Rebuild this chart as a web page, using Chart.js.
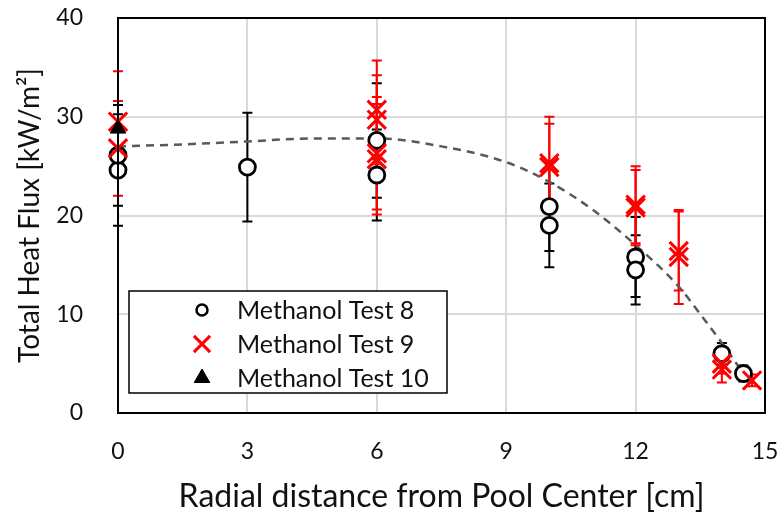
<!DOCTYPE html>
<html>
<head>
<meta charset="utf-8">
<script src="https://cdn.jsdelivr.net/npm/chart.js@4.4.1/dist/chart.umd.min.js"></script>
<style>
  html, body { margin: 0; padding: 0; background: #fff; }
  #wrap { width: 781px; height: 516px; }
</style>
</head>
<body>
<div id="wrap"><canvas id="fluxChart" width="781" height="516"></canvas></div>
<script>
// Methanol Test 8 (open circles)
const t8X   = [0, 0, 3, 6, 6, 10, 10, 12, 12, 14, 14.5];
const t8Y   = [24.6, 26.1, 24.9, 27.6, 24.1, 20.9, 19.0, 15.8, 14.5, 6.0, 4.0];
const t8Err = [5.65, 5.1, 5.5, 5.8, 4.6, 4.5, 4.25, 4.05, 3.5, 1.1, 0.8];

// Methanol Test 9 (red crosses)
const t9X   = [0, 0, 6, 6, 6, 6, 10, 10, 12, 12, 13, 13, 14, 14, 14.7];
const t9Y   = [29.5, 26.8, 30.7, 29.7, 26.3, 25.7, 25.3, 24.9, 21.1, 20.8, 16.4, 15.8, 5.0, 4.4, 3.3];
const t9Err = [5.1, 4.8, 5.0, 4.5, 5.7, 5.6, 4.7, 4.4, 3.9, 3.8, 4.0, 4.75, 1.0, 1.3, 0.6];

// Methanol Test 10 (filled triangle)
const t10X = [0];
const t10Y = [28.8];

// Dashed trend curve
const trendX = [0, 1.5, 3, 4.5, 6, 7.5, 9, 10, 11, 12, 13, 13.5, 14, 14.5];
const trendY = [27.0, 27.2, 27.5, 27.8, 27.8, 27.0, 25.4, 23.4, 20.6, 17.0, 12.8, 10.0, 7.1, 4.0];

// axis ranges and tick steps
const xRange = [0, 15, 3];
const yRange = [0, 40, 10];

const FONT = 'Lato, "Open Sans", sans-serif';

function toPoints(xs, ys) {
    return xs.map((x, i) => ({ x: x, y: ys[i] }));
}

// vertical error bars with caps, drawn under the markers
const errorBars = {
    id: 'errorBars',
    beforeDatasetsDraw(chart) {
        const ctx = chart.ctx;
        const xs = chart.scales.x, ys = chart.scales.y;
        const sets = [
            { x: t8X, y: t8Y, e: t8Err, color: '#000000' },
            { x: t9X, y: t9Y, e: t9Err, color: '#ff0000' }
        ];
        ctx.save();
        ctx.lineWidth = 2;
        sets.forEach(s => {
            ctx.strokeStyle = s.color;
            s.x.forEach((xv, i) => {
                const px = xs.getPixelForValue(xv);
                const top = ys.getPixelForValue(s.y[i] + s.e[i]);
                const bot = ys.getPixelForValue(s.y[i] - s.e[i]);
                ctx.beginPath();
                ctx.moveTo(px, top); ctx.lineTo(px, bot);
                ctx.moveTo(px - 5, top); ctx.lineTo(px + 5, top);
                ctx.moveTo(px - 5, bot); ctx.lineTo(px + 5, bot);
                ctx.stroke();
            });
        });
        ctx.restore();
    }
};

// black frame round the plot area and the boxed legend
const frameAndLegend = {
    id: 'frameAndLegend',
    afterDraw(chart) {
        const ctx = chart.ctx;
        const a = chart.chartArea;
        ctx.save();
        ctx.strokeStyle = '#000';
        ctx.lineWidth = 2;
        ctx.strokeRect(a.left, a.top, a.right - a.left, a.bottom - a.top);

        const box = { x: 129, y: 291, w: 318, h: 102 };
        ctx.fillStyle = '#fff';
        ctx.fillRect(box.x, box.y, box.w, box.h);
        ctx.lineWidth = 1.5;
        ctx.strokeRect(box.x, box.y, box.w, box.h);

        const rows = [
            { label: 'Methanol Test 8', style: 'circle', r: 5.5, bw: 2.5, stroke: '#000', fill: '#fff' },
            { label: 'Methanol Test 9', style: 'crossRot', r: 11.5, bw: 3, stroke: '#ff0000', fill: '#ff0000' },
            { label: 'Methanol Test 10', style: 'triangle', r: 9, bw: 1, stroke: '#000', fill: '#000' }
        ];
        ctx.font = '25px ' + FONT;
        ctx.textBaseline = 'middle';
        ctx.textAlign = 'left';
        rows.forEach((row, i) => {
            const cy = box.y + 19 + i * 34;
            ctx.fillStyle = row.fill;
            ctx.strokeStyle = row.stroke;
            ctx.lineWidth = row.bw;
            Chart.helpers.drawPoint(ctx, { pointStyle: row.style, radius: row.r, rotation: 0, borderWidth: row.bw }, 202, cy);
            ctx.fillStyle = '#111';
            ctx.fillText(row.label, 237, cy + 1);
        });
        ctx.restore();
    }
};

const ctx = document.getElementById('fluxChart').getContext('2d');
new Chart(ctx, {
    type: 'scatter',
    data: {
        datasets: [
            {
                label: 'Trend',
                data: toPoints(trendX, trendY),
                showLine: true,
                borderColor: '#595959',
                borderWidth: 2.5,
                borderDash: [8, 6],
                pointRadius: 0,
                cubicInterpolationMode: 'monotone',
                order: 4
            },
            {
                label: 'Methanol Test 8',
                data: toPoints(t8X, t8Y),
                pointStyle: 'circle',
                pointRadius: 8,
                borderWidth: 2.8,
                borderColor: '#000',
                backgroundColor: '#fff',
                order: 3
            },
            {
                label: 'Methanol Test 9',
                data: toPoints(t9X, t9Y),
                pointStyle: 'crossRot',
                pointRadius: 13,
                borderWidth: 3,
                borderColor: '#ff0000',
                backgroundColor: '#ff0000',
                order: 2
            },
            {
                label: 'Methanol Test 10',
                data: toPoints(t10X, t10Y),
                pointStyle: 'triangle',
                pointRadius: 9,
                borderWidth: 1,
                borderColor: '#000',
                backgroundColor: '#000',
                order: 1
            }
        ]
    },
    options: {
        responsive: false,
        animation: false,
        clip: false,
        layout: { padding: { left: 0, top: 18, right: 15, bottom: 0 } },
        plugins: {
            legend: { display: false },
            tooltip: { enabled: false }
        },
        scales: {
            x: {
                type: 'linear',
                min: xRange[0],
                max: xRange[1],
                // fixed axis band; the label overhang is left to the layout padding
                afterFit: s => { s.height = 103; s.paddingLeft = 0; s.paddingRight = 0; },
                grid: { color: '#d9d9d9', lineWidth: 2, drawTicks: false },
                border: { display: false },
                ticks: { stepSize: xRange[2], padding: 25, color: '#111', font: { family: FONT, size: 23 } },
                title: {
                    display: true,
                    text: 'Radial distance from Pool Center [cm]',
                    color: '#111',
                    font: { family: FONT, size: 32 },
                    padding: { top: 0, bottom: 0 }
                }
            },
            y: {
                type: 'linear',
                min: yRange[0],
                max: yRange[1],
                afterFit: s => { s.width = 118; s.paddingTop = 0; s.paddingBottom = 0; },
                grid: { color: '#d9d9d9', lineWidth: 2, drawTicks: false },
                border: { display: false },
                ticks: { stepSize: yRange[2], padding: 35, color: '#111', font: { family: FONT, size: 23 } },
                title: {
                    display: true,
                    text: 'Total Heat Flux [kW/m²]',
                    color: '#111',
                    font: { family: FONT, size: 28 },
                    padding: { top: 13, bottom: 0 }
                }
            }
        }
    },
    plugins: [errorBars, frameAndLegend]
});
</script>
</body>
</html>
